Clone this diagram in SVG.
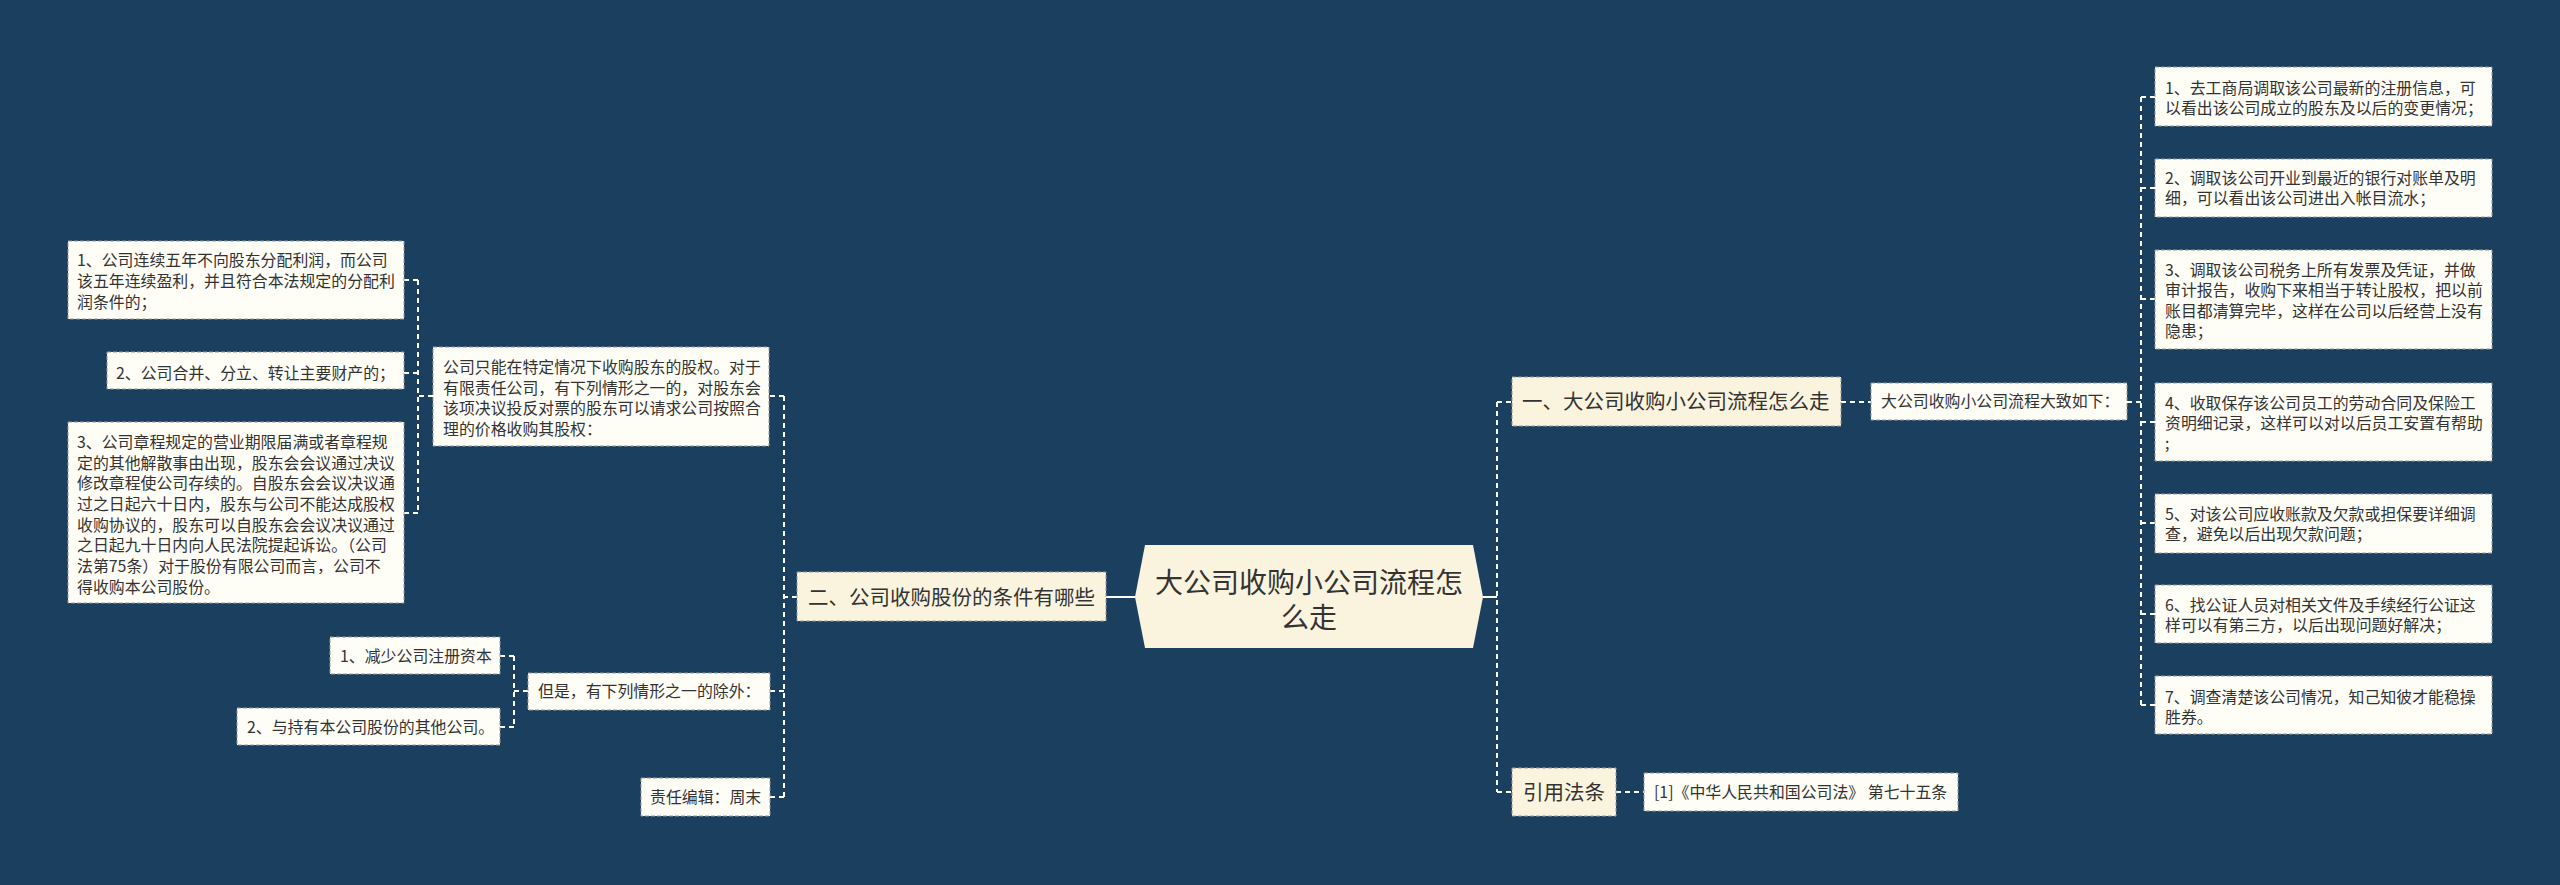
<svg xmlns="http://www.w3.org/2000/svg" width="2560" height="885" viewBox="0 0 2560 885">
<style>
text{font-family:"Noto Sans CJK SC","Noto Sans",sans-serif;fill:#333;}
.leaf rect{fill:#FEFDF6;stroke:#9a9a9a;stroke-width:1;stroke-dasharray:4 2;}
.main rect{fill:#FAF4DE;stroke:#9a9a9a;stroke-width:1;stroke-dasharray:4 2;}
.leaf text{font-size:15.9px;}
.main text{font-size:20.5px;}
.c path{fill:none;stroke:#fff;stroke-width:2;stroke-dasharray:5 4;}
.c path.s{stroke-dasharray:none;}
</style>
<rect width="2560" height="885" fill="#1A3F5F"/>
<g id="connectors" class="c">
<path class="s" d="M1106 597H1135"/>
<path class="s" d="M1483 597H1497"/>
<path d="M1497 402V792M1497 402H1512M1497 792H1512"/>
<path d="M1841 402H1871"/>
<path d="M1616 792H1644"/>
<path d="M2127 402H2141"/>
<path d="M2141 97V705M2141 97H2155M2141 188H2155M2141 299H2155M2141 422H2155M2141 523H2155M2141 614H2155M2141 705H2155"/>
<path d="M797 597H784M784 396V797M784 396H769M784 691H770M784 797H770"/>
<path d="M433 396H418M418 280V513M418 280H404M418 373H404M418 513H404"/>
<path d="M528 691H514M514 656V727M514 656H500M514 727H500"/>
</g>
<g id="root">
<polygon points="1135,597 1145,545 1473,545 1483,597 1473,648 1145,648" fill="#FAF4DE"/>
<text x="1309" y="593" font-size="28" text-anchor="middle">大公司收购小公司流程怎</text>
<text x="1309" y="628" font-size="28" text-anchor="middle">么走</text>
</g>
<g id="n-yi" class="main"><rect x="1512" y="377" width="329" height="49"/><text x="1522" y="409">一、大公司收购小公司流程怎么走</text></g>
<g id="n-dazhi" class="leaf"><rect x="1871" y="383" width="256" height="37"/><text x="1881" y="407">大公司收购小公司流程大致如下：</text></g>
<g id="n-r1" class="leaf"><rect x="2155" y="67" width="337" height="59"/><text x="2165" y="94">1、去工商局调取该公司最新的注册信息，可</text><text x="2165" y="114">以看出该公司成立的股东及以后的变更情况；</text></g>
<g id="n-r2" class="leaf"><rect x="2155" y="159" width="337" height="58"/><text x="2165" y="184">2、调取该公司开业到最近的银行对账单及明</text><text x="2165" y="204">细，可以看出该公司进出入帐目流水；</text></g>
<g id="n-r3" class="leaf"><rect x="2155" y="250" width="337" height="99"/><text x="2165" y="276">3、调取该公司税务上所有发票及凭证，并做</text><text x="2165" y="296">审计报告，收购下来相当于转让股权，把以前</text><text x="2165" y="317">账目都清算完毕，这样在公司以后经营上没有</text><text x="2165" y="337">隐患；</text></g>
<g id="n-r4" class="leaf"><rect x="2155" y="383" width="337" height="78"/><text x="2165" y="409">4、收取保存该公司员工的劳动合同及保险工</text><text x="2165" y="429">资明细记录，这样可以对以后员工安置有帮助</text><text x="2165" y="449">;</text></g>
<g id="n-r5" class="leaf"><rect x="2155" y="494" width="337" height="59"/><text x="2165" y="520">5、对该公司应收账款及欠款或担保要详细调</text><text x="2165" y="540">查，避免以后出现欠款问题；</text></g>
<g id="n-r6" class="leaf"><rect x="2155" y="585" width="337" height="58"/><text x="2165" y="611">6、找公证人员对相关文件及手续经行公证这</text><text x="2165" y="631">样可以有第三方，以后出现问题好解决；</text></g>
<g id="n-r7" class="leaf"><rect x="2155" y="676" width="337" height="58"/><text x="2165" y="703">7、调查清楚该公司情况，知己知彼才能稳操</text><text x="2165" y="723">胜券。</text></g>
<g id="n-law" class="main"><rect x="1512" y="768" width="104" height="48"/><text x="1523" y="800">引用法条</text></g>
<g id="n-law1" class="leaf"><rect x="1644" y="773" width="314" height="38"/><text x="1654" y="798">[1]《中华人民共和国公司法》 第七十五条</text></g>
<g id="n-er" class="main"><rect x="797" y="572" width="309" height="49"/><text x="808" y="605">二、公司收购股份的条件有哪些</text></g>
<g id="n-m" class="leaf"><rect x="433" y="347" width="336" height="99"/><text x="443" y="373">公司只能在特定情况下收购股东的股权。对于</text><text x="443" y="394">有限责任公司，有下列情形之一的，对股东会</text><text x="443" y="414">该项决议投反对票的股东可以请求公司按照合</text><text x="443" y="435">理的价格收购其股权：</text></g>
<g id="n-l1" class="leaf"><rect x="68" y="241" width="336" height="78"/><text x="77" y="266">1、公司连续五年不向股东分配利润，而公司</text><text x="77" y="287">该五年连续盈利，并且符合本法规定的分配利</text><text x="77" y="308">润条件的；</text></g>
<g id="n-l2" class="leaf"><rect x="107" y="352" width="297" height="37"/><text x="116" y="379">2、公司合并、分立、转让主要财产的；</text></g>
<g id="n-l3" class="leaf"><rect x="68" y="422" width="336" height="181"/><text x="77" y="448">3、公司章程规定的营业期限届满或者章程规</text><text x="77" y="469">定的其他解散事由出现，股东会会议通过决议</text><text x="77" y="489">修改章程使公司存续的。自股东会会议决议通</text><text x="77" y="510">过之日起六十日内，股东与公司不能达成股权</text><text x="77" y="531">收购协议的，股东可以自股东会会议决议通过</text><text x="77" y="551">之日起九十日内向人民法院提起诉讼。（公司</text><text x="77" y="572">法第75条）对于股份有限公司而言，公司不</text><text x="77" y="593">得收购本公司股份。</text></g>
<g id="n-dan" class="leaf"><rect x="528" y="673" width="242" height="37"/><text x="538" y="697">但是，有下列情形之一的除外：</text></g>
<g id="n-d1" class="leaf"><rect x="330" y="637" width="170" height="37"/><text x="340" y="662">1、减少公司注册资本</text></g>
<g id="n-d2" class="leaf"><rect x="237" y="708" width="263" height="37"/><text x="247" y="733">2、与持有本公司股份的其他公司。</text></g>
<g id="n-ed" class="leaf"><rect x="641" y="778" width="129" height="38"/><text x="650" y="803">责任编辑：周末</text></g>
</svg>
